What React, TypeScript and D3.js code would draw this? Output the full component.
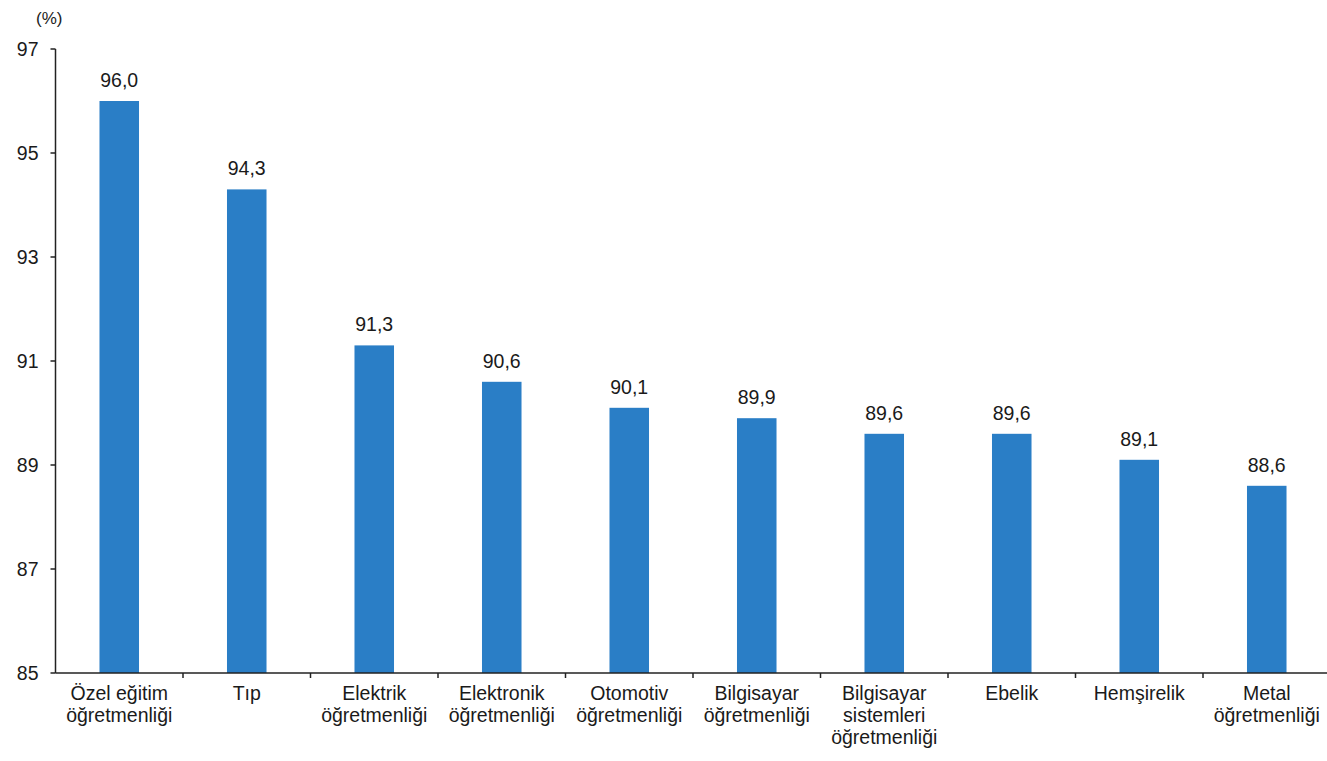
import * as d3 from 'd3'
import React from 'react'

const categories = [
  ['Özel eğitim', 'öğretmenliği'],
  ['Tıp'],
  ['Elektrik', 'öğretmenliği'],
  ['Elektronik', 'öğretmenliği'],
  ['Otomotiv', 'öğretmenliği'],
  ['Bilgisayar', 'öğretmenliği'],
  ['Bilgisayar', 'sistemleri', 'öğretmenliği'],
  ['Ebelik'],
  ['Hemşirelik'],
  ['Metal', 'öğretmenliği'],
]
const values = [96.0, 94.3, 91.3, 90.6, 90.1, 89.9, 89.6, 89.6, 89.1, 88.6]
const yTicks = [85, 87, 89, 91, 93, 95, 97]

const W = 1327, H = 761
const font = '"Liberation Sans", Arial, sans-serif'

export default function App() {
  const
    x = d3.scaleBand<number>().domain(d3.range(values.length)).range([55.5, 1330.5]).paddingInner(0.69).paddingOuter(0.345),
    y = d3.scaleLinear().domain([85, 97]).range([673, 49]),
    fmt = (v: number) => v.toFixed(1).replace('.', ','),
    step = x.step(),
    x0 = 55.5

  return (
    <div style={{ position: 'absolute', left: 0, top: 0 }}>
      <svg width={W} height={H} style={{ display: 'block', fontFamily: font }}>
        <rect width={W} height={H} fill='#fff' />
        <text x={36} y={24} fontSize={17} fill='#222'>(%)</text>
        {values.map((v, i) => (
          <g key={i}>
            <rect x={x(i)} y={y(v)} width={x.bandwidth()} height={y(85) - y(v)} fill='#2a7ec6' />
            <text x={x(i)! + x.bandwidth() / 2} y={y(v) - 14} textAnchor='middle' fontSize={19.5} fill='#1a1a1a'>{fmt(v)}</text>
          </g>
        ))}
        <line x1={x0} x2={x0} y1={y(97)} y2={y(85)} stroke='#222' strokeWidth={1.5} />
        <line x1={x0} x2={W} y1={y(85)} y2={y(85)} stroke='#222' strokeWidth={1.5} />
        {yTicks.map(t => (
          <g key={t}>
            <line x1={x0 - 5} x2={x0} y1={y(t)} y2={y(t)} stroke='#222' strokeWidth={1.5} />
            <text x={x0 - 17} y={y(t)} dy='0.35em' textAnchor='end' fontSize={19.5} fill='#1a1a1a'>{t}</text>
          </g>
        ))}
        {d3.range(1, values.length).map(i => (
          <line key={i} x1={x0 + i * step} x2={x0 + i * step} y1={y(85)} y2={y(85) + 5} stroke='#222' strokeWidth={1.5} />
        ))}
        {categories.map((lines, i) => (
          <text key={i} x={x(i)! + x.bandwidth() / 2} y={700} textAnchor='middle' fontSize={19.5} fill='#1a1a1a'>
            {lines.map((l, j) => <tspan key={j} x={x(i)! + x.bandwidth() / 2} dy={j === 0 ? 0 : 22}>{l}</tspan>)}
          </text>
        ))}
      </svg>
    </div>
  )
}
